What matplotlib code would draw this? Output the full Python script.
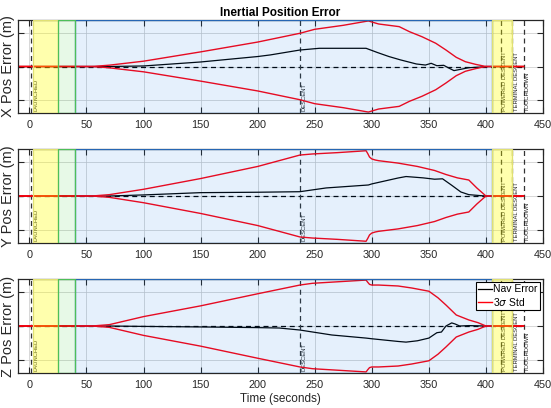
import numpy as np
import matplotlib
matplotlib.use("Agg")
import matplotlib.pyplot as plt

plt.rcParams['font.family'] = ['Liberation Sans', 'DejaVu Sans']

# mission phases (seconds)
t_launch = 1
t_descent = 237
t_powered = 413
t_terminal = 423
t_touchdown = 433

# nav error and 3-sigma envelope per axis (m)
t_x = [-10, 55, 70, 100, 150, 200, 237, 250, 275, 297, 300, 306, 315, 324, 333, 344, 356, 365, 374, 382, 391, 400, 433]
sig_x = [0, 0, 1, 4, 11, 18.4, 25, 28, 31, 34.3, 33.5, 32, 31, 30, 26.2, 22.4, 17.5, 12.4, 6.9, 3.6, 1.6, 0, 0]
t_xe = [-10, 70, 100, 150, 200, 211, 237, 254, 295, 305, 315, 325, 335, 339, 347, 352, 357, 363, 368, 372, 378, 385, 394, 400, 433]
err_x = [0, 0, 0.4, 3.4, 7.5, 8.7, 12.4, 13.7, 13.7, 10.5, 7.5, 5, 2.8, 1.9, 1.1, 2.4, 0.6, 0.9, -1.4, -3.1, -2.1, -0.9, -0.5, 0, 0]

t_y = [-10, 55, 70, 100, 150, 200, 237, 248, 270, 295, 296.5, 298, 300, 303, 306, 323, 340, 355, 365, 375, 385, 392, 400, 433]
sig_y = [0, 0, 1, 5, 13, 22, 30.5, 31.3, 32.3, 33.7, 31.5, 29, 27.6, 26.8, 26.3, 24.5, 22, 19, 16, 13.5, 11.9, 6, 0, 0]
t_ye = [-10, 70, 100, 150, 200, 237, 260, 297, 300, 323, 330, 345, 355, 362, 370, 378, 385, 395, 400, 433]
err_y = [0, 0, 0.8, 2.5, 2.8, 3.2, 6, 8.2, 9, 13.4, 14.5, 13.5, 12.5, 12.8, 8, 3, 1, 0.3, 0, 0]

t_z = [-10, 55, 70, 100, 150, 200, 237, 248, 295, 296.5, 298, 300, 306, 323, 335, 350, 358, 365, 374, 385, 393, 400, 433]
sig_z = [0, 0, 1, 7, 15, 24, 30.5, 31.8, 34.2, 32.5, 31, 30.5, 30.5, 29.8, 28.3, 25.9, 21, 15.6, 8.2, 4.5, 2.5, 0, 0]
t_ze = [-10, 70, 100, 150, 200, 219, 237, 265, 295, 300, 323, 330, 340, 350, 357, 361, 365, 370, 373, 377, 385, 400, 433]
err_z = [0, 0, -0.3, -0.7, -1.2, -1.5, -3, -6.7, -9, -9.5, -11.5, -12, -11, -9, -5, -4.5, 0, 2.3, 1.5, 0, 0.3, 0, 0]

panels = [
    ("X Pos Error (m)", t_x, sig_x, t_xe, err_x),
    ("Y Pos Error (m)", t_y, sig_y, t_ye, err_y),
    ("Z Pos Error (m)", t_z, sig_z, t_ze, err_z),
]

# (start, end, face, edge, alpha) -- drawn in order, last edge wins
phase_bands = [
    (40, 405, (0.0, 0.45, 0.9), (0.15, 0.4, 0.7), 0.1),
    (3, 25, (1, 1, 0), (0.88, 0.88, 0.45), 0.32),
    (405, 423, (1, 1, 0), (0.88, 0.88, 0.45), 0.32),
    (25, 40, (0.1, 0.8, 0.1), (0.3, 0.75, 0.35), 0.1),
]
phase_lines = [t_launch, t_descent, t_powered, t_terminal, t_touchdown]
phase_labels = [
    (t_launch + 2.5, "LAUNCHED"),
    (t_descent + 1.5, "DESCENT"),
    (t_powered + 1.5, "POWERED DESCENT"),
    (t_terminal + 1.5, "TERMINAL DESCENT"),
    (t_touchdown + 1.5, "TOUCHDOWN"),
]

ylim = 35
fig = plt.figure(figsize=(5.51, 4.08), dpi=100)
boxes = [(20, 113), (149, 243), (279, 373)]
axes = []
for (top, bot) in boxes:
    axes.append(fig.add_axes([18 / 551, 1 - bot / 408, 525 / 551, (bot - top) / 408]))

for ax, (ylab, t_s, sig, t_e, err) in zip(axes, panels):
    ax.plot([-10, t_touchdown], [0, 0], color='k', ls='--', lw=0.9, dashes=(4, 3), zorder=1.5)
    nav, = ax.plot(t_e, err, color='k', lw=0.9, zorder=2, label='Nav Error')
    std, = ax.plot(t_s, sig, color=(1, 0, 0.05), lw=1.0, zorder=2.1, label=r'3$\sigma$ Std')
    ax.plot(t_s, [-s for s in sig], color=(1, 0, 0.05), lw=1.0, zorder=2.1)

    for x in phase_lines:
        ax.axvline(x, color='#333333', ls='--', lw=0.9, dashes=(4, 3), zorder=1.6)
    for x, txt in phase_labels:
        ax.text(x, -ylim + 1.2, txt, rotation=90, fontsize=4.2, color='#222222',
                ha='left', va='bottom', zorder=1.7)

    for x0, x1, fc, ec, a in phase_bands:
        ax.axvspan(x0, x1, facecolor=fc, alpha=a, lw=0, zorder=3)
        ax.axvspan(x0, x1, facecolor='none', edgecolor=ec, lw=0.9, zorder=3.1)

    ax.set_xlim(-10, 450)
    ax.set_ylim(-ylim, ylim)
    ax.set_xticks(np.arange(0, 451, 50))
    ax.set_yticks([-25, 0, 25])
    ax.set_yticklabels([])
    ax.grid(True, color='#c8c8c8', lw=0.5)
    ax.set_axisbelow(True)
    ax.tick_params(direction='in', top=True, right=True, length=4, width=0.8,
                   labelsize=7.8, colors='#262626', pad=5)
    for s in ax.spines.values():
        s.set_linewidth(0.9)
        s.set_color('#262626')
    ax.set_ylabel(ylab, fontsize=10.5, color='#262626')
    ax.yaxis.set_label_coords(-0.005, 0.5)

axes[0].set_title("Inertial Position Error", fontsize=8.5, fontweight='bold', pad=3)
axes[2].set_xlabel("Time (seconds)", fontsize=8.5, color='#262626', labelpad=2)
leg = axes[2].legend(handles=[nav, std], loc='upper right', fontsize=7.5,
                     fancybox=False, edgecolor='k', framealpha=1,
                     handlelength=1.3, handletextpad=0.15, borderpad=0.2,
                     labelspacing=0.15, borderaxespad=0.3)
leg.set_zorder(5)
leg.get_frame().set_linewidth(0.8)

fig.savefig("out.png", dpi=100)
